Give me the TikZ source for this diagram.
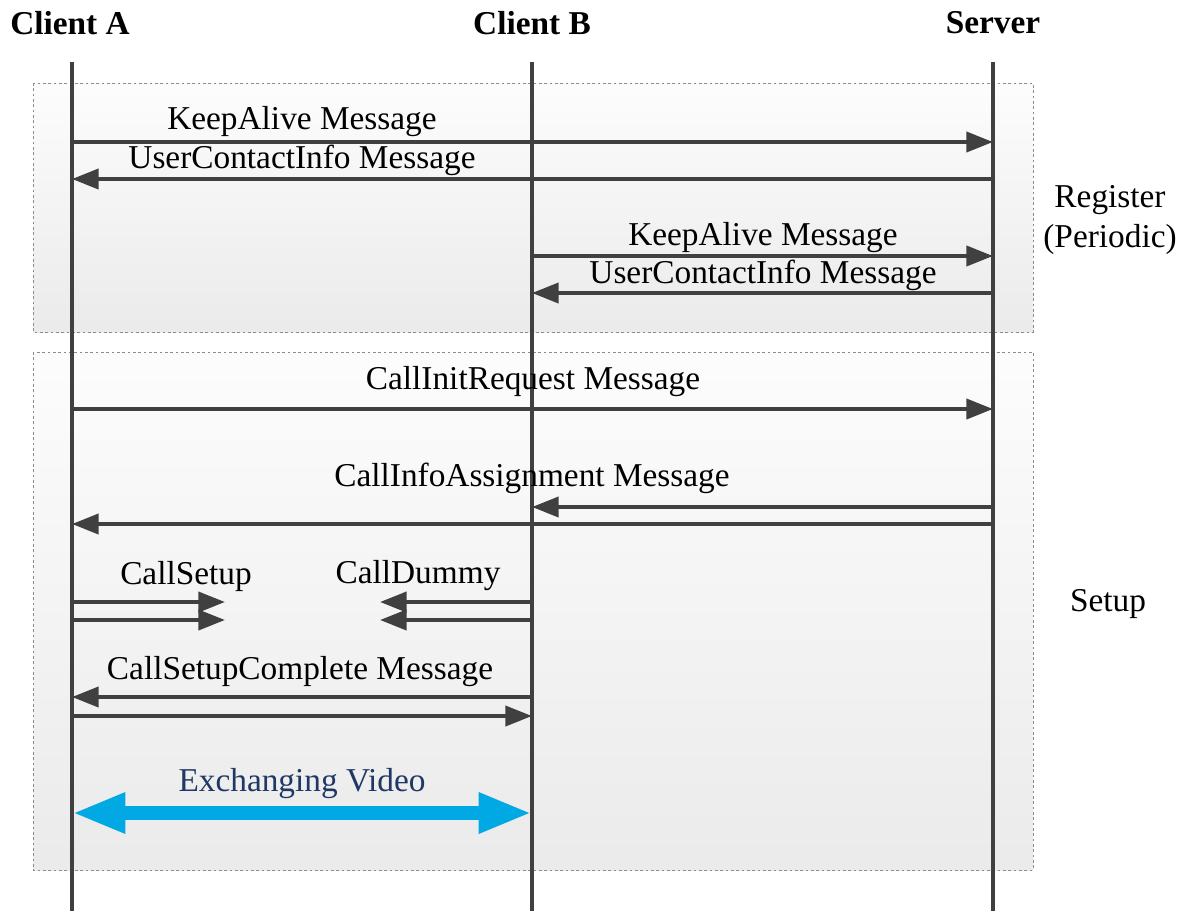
\documentclass[tikz,border=0pt]{standalone}
\usepackage{fontspec}
\setmainfont{Liberation Serif}
\usetikzlibrary{arrows.meta}
\definecolor{lifeline}{RGB}{64,64,64}
\definecolor{videoblue}{RGB}{0,168,228}
\definecolor{videotext}{RGB}{31,56,100}
\tikzset{
  lane/.style={draw=lifeline, line width=3pt},
  msg/.style={draw=lifeline, line width=3pt, -{Triangle[length=20pt,width=15pt]}},
  phase/.style={draw=black!45, line width=0.7pt, dash pattern=on 2pt off 2pt,
                top color=black!1, bottom color=black!8},
  label/.style={font=\fontsize{25}{30}\selectfont, inner sep=0pt},
  head/.style={font=\fontsize{25}{30}\selectfont\bfseries, inner sep=0pt},
  video/.style={draw=videoblue, line width=10pt,
                {Triangle[length=40pt,width=28pt]}-{Triangle[length=40pt,width=28pt]}},
}
\begin{document}
\begin{tikzpicture}[x=0.75pt, y=-0.75pt]
\useasboundingbox (0,0) rectangle (1185,911);

% phase boxes
\path[phase] (33,83) rectangle (1033,332);
\path[phase] (33,352) rectangle (1033,870);
\node[label, align=center] (reg) at (1110,220) {Register\\(Periodic)};
\node[label] (setup) at (1108,604) {Setup};

% participants and lifelines
\node[head] (A) at (70,23) {Client A};
\node[head] (B) at (532,23) {Client B};
\node[head] (S) at (993,23) {Server};
\coordinate (Atop) at (72,62);   \coordinate (Abot) at (72,911);
\coordinate (Btop) at (532,62);  \coordinate (Bbot) at (532,911);
\coordinate (Stop) at (993,62);  \coordinate (Sbot) at (993,911);
\draw[lane] (Atop) -- (Abot);
\draw[lane] (Btop) -- (Bbot);
\draw[lane] (Stop) -- (Sbot);

% register
\coordinate (a1) at (72,142);  \coordinate (s1) at (993,142);
\coordinate (a2) at (72,179);  \coordinate (s2) at (993,179);
\coordinate (b3) at (532,256); \coordinate (s3) at (993,256);
\coordinate (b4) at (532,293); \coordinate (s4) at (993,293);
\draw[msg] (a1) -- (s1);
\draw[msg] (s2) -- (a2);
\draw[msg] (b3) -- (s3);
\draw[msg] (s4) -- (b4);
\node[label] (l1) at (302,122) {KeepAlive Message};
\node[label] (l2) at (302,160) {UserContactInfo Message};
\node[label] (l3) at (763,238) {KeepAlive Message};
\node[label] (l4) at (763,275) {UserContactInfo Message};

% setup
\coordinate (a5) at (72,409);  \coordinate (s5) at (993,409);
\coordinate (b6) at (532,507); \coordinate (s6) at (993,507);
\coordinate (a7) at (72,524);  \coordinate (s7) at (993,524);
\draw[msg] (a5) -- (s5);
\draw[msg] (s6) -- (b6);
\draw[msg] (s7) -- (a7);
\node[label] (l5) at (533,382) {CallInitRequest Message};
\node[label] (l6) at (532,478) {CallInfoAssignment Message};

\coordinate (a8) at (72,602);   \coordinate (c8) at (225,602);
\coordinate (a9) at (72,620);   \coordinate (c9) at (225,620);
\coordinate (b8) at (532,602);  \coordinate (d8) at (380,602);
\coordinate (b9) at (532,620);  \coordinate (d9) at (380,620);
\draw[msg] (a8) -- (c8);
\draw[msg] (a9) -- (c9);
\draw[msg] (b8) -- (d8);
\draw[msg] (b9) -- (d9);
\node[label] (l8) at (186,576) {CallSetup};
\node[label] (l9) at (418,576) {CallDummy};

\coordinate (b10) at (532,697); \coordinate (a10) at (72,697);
\coordinate (a11) at (72,716);  \coordinate (b11) at (532,716);
\draw[msg] (b10) -- (a10);
\draw[msg] (a11) -- (b11);
\node[label] (l10) at (300,672) {CallSetupComplete Message};

\coordinate (av) at (72,813); \coordinate (bv) at (532,813);
\draw[video] (av) -- (bv);
\node[label, text=videotext] (lv) at (302,784) {Exchanging Video};
\end{tikzpicture}
\end{document}
